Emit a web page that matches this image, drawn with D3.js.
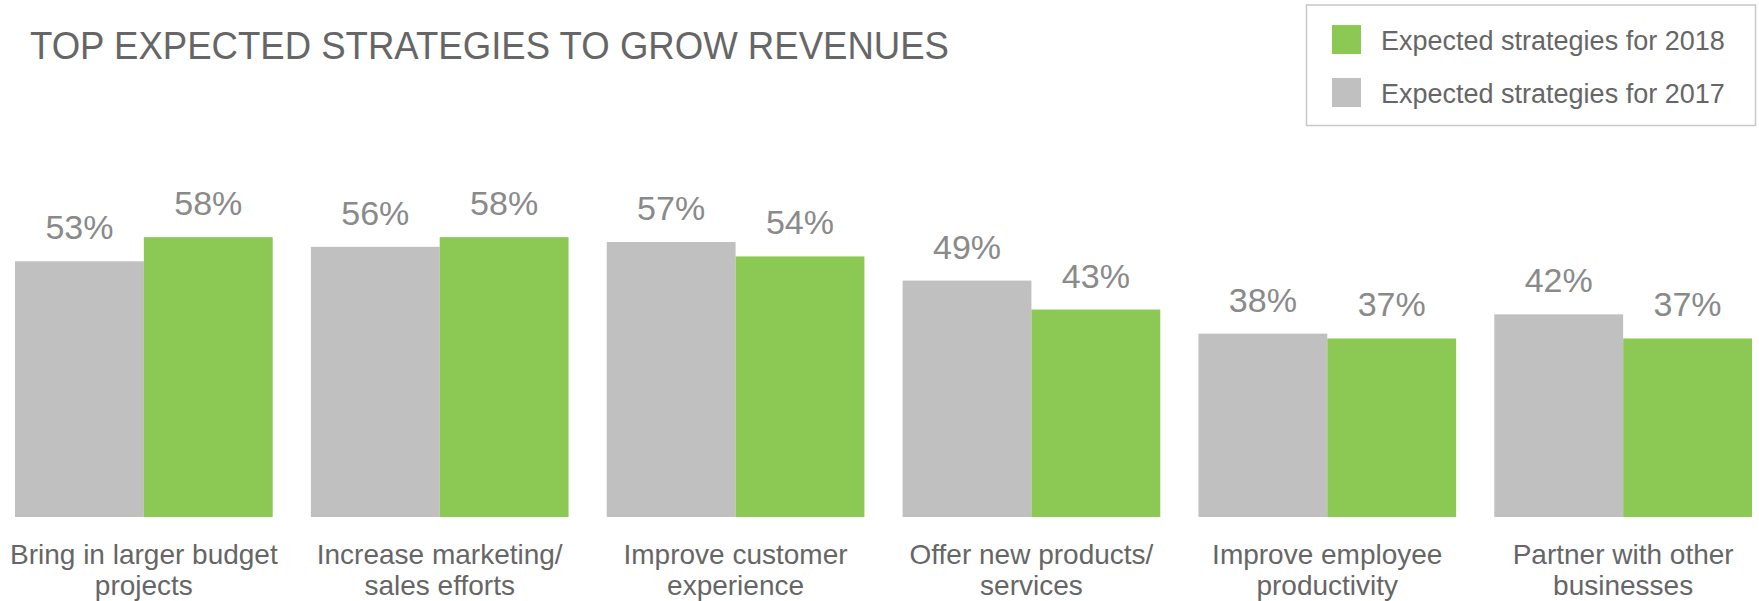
<!DOCTYPE html>
<html>
<head>
<meta charset="utf-8">
<script src="https://cdn.jsdelivr.net/npm/d3@7/dist/d3.min.js"></script>
<style>
  body { margin: 0; background: #fff; }
  text { font-family: "Liberation Sans", Arial, sans-serif; }
</style>
</head>
<body>
<div id="chart"></div>
<script>
var title = "TOP EXPECTED STRATEGIES TO GROW REVENUES";

var categories = [
    ["Bring in larger budget", "projects"],
    ["Increase marketing/", "sales efforts"],
    ["Improve customer", "experience"],
    ["Offer new products/", "services"],
    ["Improve employee", "productivity"],
    ["Partner with other", "businesses"]
];

var seriesNames = ["Expected strategies for 2017", "Expected strategies for 2018"];
var values2017 = [53, 56, 57, 49, 38, 42];
var values2018 = [58, 58, 54, 43, 37, 37];

var legendOrder = [1, 0]; // 2018 listed first
var colors = ["#c0c0c0", "#8bc954"];

var width = 1759,
    height = 601;

var svg = d3.select("#chart")
    .append("svg")
    .attr("width", width)
    .attr("height", height);

var data = categories.map(function(c, i) {
    return { key: i, lines: c, vals: [values2017[i], values2018[i]] };
});

var x0 = d3.scaleBand()
    .domain(d3.range(categories.length))
    .range([15, 1752])
    .paddingInner(0.129)
    .paddingOuter(0);

var x1 = d3.scaleBand()
    .domain([0, 1])
    .range([0, x0.bandwidth()]);

var y = d3.scaleLinear()
    .domain([0, 100])
    .range([517, 34.5]);

// title
svg.append("text")
    .attr("x", 30)
    .attr("y", 59)
    .attr("fill", "#666")
    .style("font-size", "39px")
    .attr("textLength", 919)
    .attr("lengthAdjust", "spacingAndGlyphs")
    .text(title);

// bars
var groups = svg.selectAll(".group")
    .data(data)
    .enter()
    .append("g")
    .attr("class", "group")
    .attr("transform", function(d) { return "translate(" + x0(d.key) + ",0)"; });

groups.selectAll("rect")
    .data(function(d) { return d.vals.map(function(v, s) { return { s: s, v: v }; }); })
    .enter()
    .append("rect")
    .attr("x", function(d) { return x1(d.s); })
    .attr("y", function(d) { return y(d.v); })
    .attr("width", x1.bandwidth())
    .attr("height", function(d) { return y(0) - y(d.v); })
    .attr("fill", function(d) { return colors[d.s]; });

groups.selectAll(".val")
    .data(function(d) { return d.vals.map(function(v, s) { return { s: s, v: v }; }); })
    .enter()
    .append("text")
    .attr("class", "val")
    .attr("x", function(d) { return x1(d.s) + x1.bandwidth() / 2; })
    .attr("y", function(d) { return y(d.v) - 22; })
    .attr("text-anchor", "middle")
    .attr("fill", "#8a8a8a")
    .style("font-size", "34px")
    .text(function(d) { return d.v + "%"; });

// category labels
groups.append("text")
    .attr("class", "cat")
    .attr("text-anchor", "middle")
    .attr("fill", "#666")
    .style("font-size", "28px")
    .selectAll("tspan")
    .data(function(d) { return d.lines; })
    .enter()
    .append("tspan")
    .attr("x", x0.bandwidth() / 2)
    .attr("y", function(d, i) { return 564 + i * 31; })
    .text(function(d) { return d; });

// legend
var legend = svg.append("g").attr("class", "legend");

legend.append("rect")
    .attr("x", 1306.5)
    .attr("y", 5)
    .attr("width", 449)
    .attr("height", 120.5)
    .attr("fill", "#fff")
    .attr("stroke", "#c8c8c8")
    .attr("stroke-width", 1.5);

var items = legend.selectAll(".item")
    .data(legendOrder)
    .enter()
    .append("g")
    .attr("class", "item")
    .attr("transform", function(d, i) { return "translate(0," + (i * 53) + ")"; });

items.append("rect")
    .attr("x", 1332)
    .attr("y", 25)
    .attr("width", 29)
    .attr("height", 29)
    .attr("fill", function(d) { return colors[d]; });

items.append("text")
    .attr("x", 1381)
    .attr("y", 49.5)
    .attr("fill", "#666")
    .style("font-size", "27px")
    .text(function(d) { return seriesNames[d]; });
</script>
</body>
</html>
